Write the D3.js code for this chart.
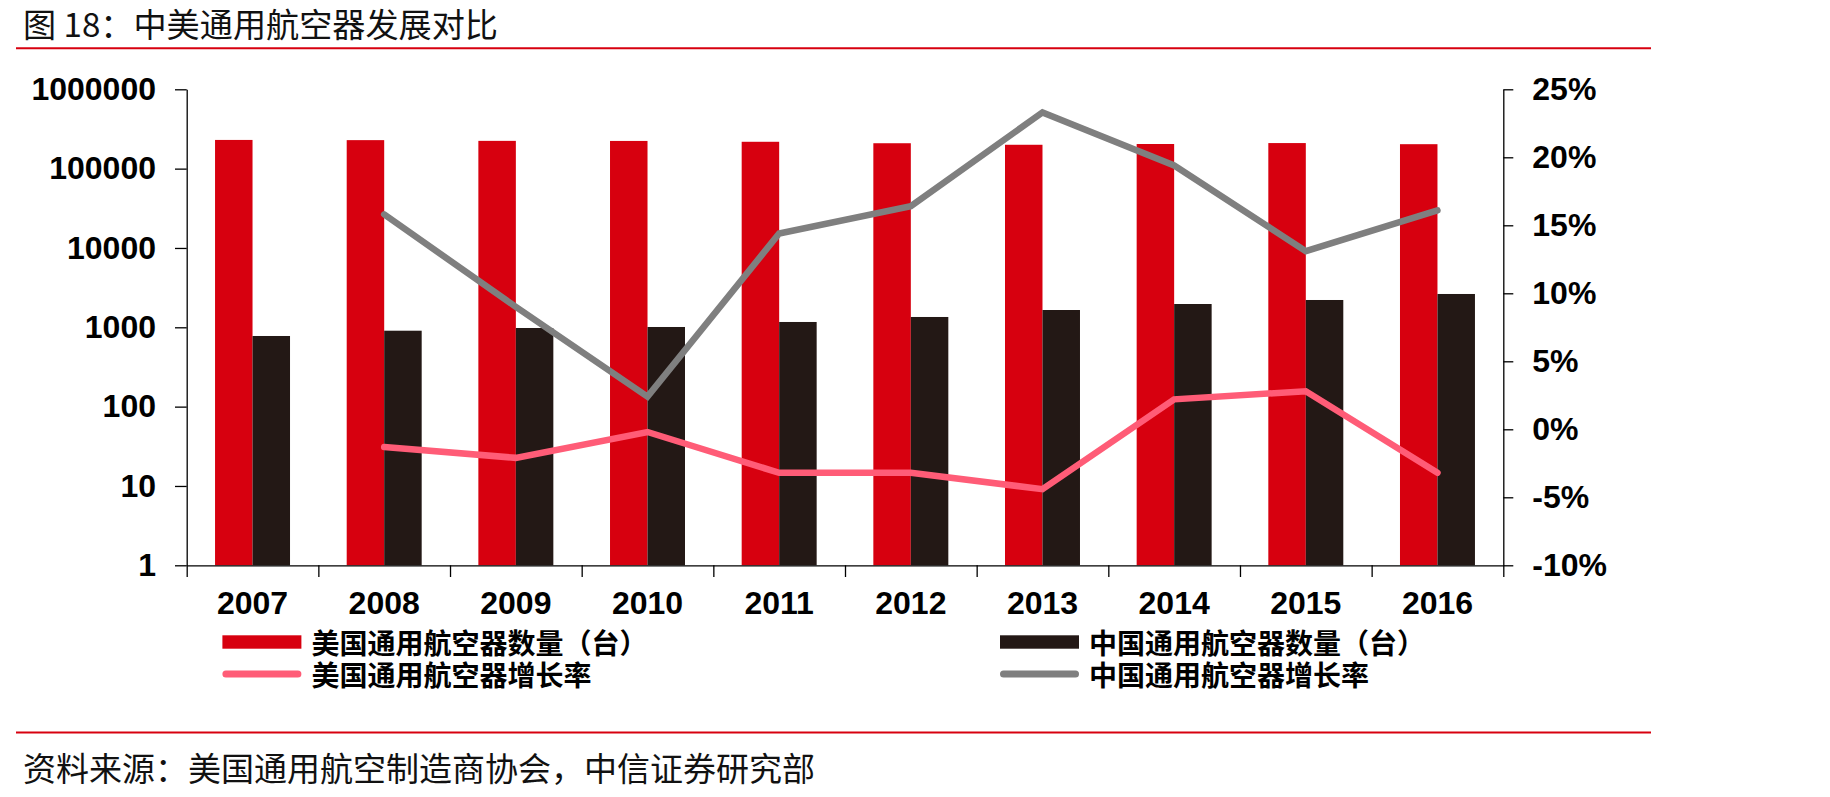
<!DOCTYPE html>
<html>
<head>
<meta charset="utf-8">
<script src="https://cdn.jsdelivr.net/npm/d3@7/dist/d3.min.js"></script>
<style>
    html, body { margin: 0; padding: 0; background: #fff; }
    svg { display: block; }
</style>
</head>
<body>
<div id="chart"><svg></svg></div>
<script>

// data
var years = ['2007', '2008', '2009', '2010', '2011', '2012', '2013', '2014', '2015', '2016'];
var usFleet = [230000, 228700, 223900, 223400, 218000, 209000, 199900, 204400, 210000, 203300];
var cnFleet = [777, 906, 980, 1009, 1167, 1349, 1652, 1966, 2209, 2630];
var usGrowth = [null, -0.013, -0.021, -0.002, -0.032, -0.032, -0.044, 0.022, 0.028, -0.032];
var cnGrowth = [null, 0.158, 0.090, 0.024, 0.144, 0.164, 0.233, 0.194, 0.131, 0.161];

var leftTicks = [1, 10, 100, 1000, 10000, 100000, 1000000];
var rightTicks = [-0.10, -0.05, 0, 0.05, 0.10, 0.15, 0.20, 0.25];

var titleText = '图 18：中美通用航空器发展对比';
var sourceText = '资料来源：美国通用航空制造商协会，中信证券研究部';
var legendLabels = ['美国通用航空器数量（台）', '中国通用航空器数量（台）',
                    '美国通用航空器增长率', '中国通用航空器增长率'];

var RED = '#d7000f', DARK = '#231815', PINK = '#ff5c77', GREY = '#7f7f7f';

/**
 * Constructor
 */
function FleetView(divId, width, height) {
    this.divId = divId;
    this.svgWidth = width;
    this.svgHeight = height;
    this.left = 186.7;
    this.right = 1503.3;
    this.top = 89.3;
    this.bottom = 565.3;
}

/**
 * Initialization: svg, scales
 */
FleetView.prototype.init = function () {
    this.svg = d3.select(this.divId).select('svg')
        .attr('width', this.svgWidth)
        .attr('height', this.svgHeight);

    this.x = d3.scaleBand().domain(years).range([this.left, this.right]).padding(0);
    this.xSub = d3.scaleBand().domain(['us', 'cn'])
        .range([0, this.x.bandwidth()]).paddingInner(0).paddingOuter(0.756);
    this.yLeft = d3.scaleLog().domain([1, 1000000]).range([this.bottom, this.top]);
    this.yRight = d3.scaleLinear().domain([-0.10, 0.25]).range([this.bottom, this.top]);
};

/**
 * Draw everything
 */
FleetView.prototype.update = function () {
    var self = this;
    var svg = this.svg;

    // title + rules
    svg.append('text')
        .attr('x', 23).attr('y', 23)
        .attr('dominant-baseline', 'central')
        .attr('textLength', 475).attr('lengthAdjust', 'spacingAndGlyphs')
        .style('font-family', '"Noto Sans CJK SC", sans-serif')
        .style('font-size', '33px')
        .attr('fill', '#111')
        .text(titleText);
    svg.append('line')
        .attr('x1', 16).attr('x2', 1651).attr('y1', 48.3).attr('y2', 48.3)
        .attr('stroke', RED).attr('stroke-width', 2);
    svg.append('line')
        .attr('x1', 16).attr('x2', 1651).attr('y1', 732.5).attr('y2', 732.5)
        .attr('stroke', RED).attr('stroke-width', 2);
    svg.append('text')
        .attr('x', 23).attr('y', 766.5)
        .attr('dominant-baseline', 'central')
        .style('font-family', '"Noto Sans CJK SC", sans-serif')
        .style('font-size', '33px')
        .attr('fill', '#111')
        .text(sourceText);

    // bars
    var bars = svg.append('g');
    bars.selectAll('rect.us').data(usFleet).enter()
        .append('rect').attr('class', 'us')
        .attr('x', function (d, i) { return self.x(years[i]) + self.xSub('us'); })
        .attr('width', this.xSub.bandwidth())
        .attr('y', function (d) { return self.yLeft(d); })
        .attr('height', function (d) { return self.yLeft(1) - self.yLeft(d); })
        .attr('fill', RED);
    bars.selectAll('rect.cn').data(cnFleet).enter()
        .append('rect').attr('class', 'cn')
        .attr('x', function (d, i) { return self.x(years[i]) + self.xSub('cn'); })
        .attr('width', this.xSub.bandwidth())
        .attr('y', function (d) { return self.yLeft(d); })
        .attr('height', function (d) { return self.yLeft(1) - self.yLeft(d); })
        .attr('fill', DARK);

    // growth lines
    var line = d3.line()
        .defined(function (d) { return d != null; })
        .x(function (d, i) { return self.x(years[i]) + self.x.bandwidth() / 2; })
        .y(function (d) { return self.yRight(d); });
    svg.append('path').datum(cnGrowth)
        .attr('d', line).attr('fill', 'none')
        .attr('stroke', GREY).attr('stroke-width', 6.5).attr('stroke-linecap', 'round');
    svg.append('path').datum(usGrowth)
        .attr('d', line).attr('fill', 'none')
        .attr('stroke', PINK).attr('stroke-width', 6.5).attr('stroke-linecap', 'round');

    // axes
    var numFont = '"Liberation Sans", Arial, sans-serif';
    var pct = d3.format('.0%');

    var leftAxis = d3.axisLeft(this.yLeft)
        .tickValues(leftTicks).tickFormat(d3.format('d'))
        .tickSizeInner(11.7).tickSizeOuter(0).tickPadding(19);
    var gl = svg.append('g').attr('transform', 'translate(' + this.left + ',0)').call(leftAxis);

    var rightAxis = d3.axisRight(this.yRight)
        .tickValues(rightTicks)
        .tickFormat(function (d) { return pct(d).replace('\u2212', '-'); })
        .tickSizeInner(10).tickSizeOuter(0).tickPadding(19);
    var gr = svg.append('g').attr('transform', 'translate(' + this.right + ',0)').call(rightAxis);

    // x axis: ticks on the category edges, labels in the middle
    var xEdge = d3.scaleLinear().domain([0, years.length]).range([this.left, this.right]);
    var edgeAxis = d3.axisBottom(xEdge)
        .tickValues(d3.range(years.length + 1)).tickFormat('')
        .tickSizeInner(11.7).tickSizeOuter(0);
    var ge = svg.append('g').attr('transform', 'translate(0,' + this.bottom + ')').call(edgeAxis);

    var labelAxis = d3.axisBottom(this.x).tickSize(0).tickPadding(26);
    var gx = svg.append('g').attr('transform', 'translate(0,' + this.bottom + ')').call(labelAxis);
    gx.select('.domain').remove();

    [gl, gr, ge, gx].forEach(function (g) {
        g.selectAll('path, line').attr('stroke', '#000').attr('stroke-width', 1.3);
        g.selectAll('text')
            .attr('fill', '#000')
            .style('font-family', numFont)
            .style('font-size', '32px')
            .style('font-weight', 'bold');
    });

    // legend
    var legend = svg.append('g')
        .style('font-family', '"Noto Sans CJK SC", sans-serif')
        .style('font-size', '28px')
        .style('font-weight', 'bold');
    var cols = [222.4, 1000];
    var rows = [642, 674];
    var kinds = [['rect', RED], ['rect', DARK], ['line', PINK], ['line', GREY]];
    legendLabels.forEach(function (lab, i) {
        var cx = cols[i % 2], cy = rows[Math.floor(i / 2)];
        if (kinds[i][0] === 'rect') {
            legend.append('rect')
                .attr('x', cx).attr('y', cy - 6.7)
                .attr('width', 79).attr('height', 13.4)
                .attr('fill', kinds[i][1]);
        } else {
            legend.append('line')
                .attr('x1', cx + 3.5).attr('x2', cx + 79 - 3.5)
                .attr('y1', cy).attr('y2', cy)
                .attr('stroke', kinds[i][1]).attr('stroke-width', 7)
                .attr('stroke-linecap', 'round');
        }
        legend.append('text')
            .attr('x', cx + 89).attr('y', cy)
            .attr('dominant-baseline', 'central')
            .attr('fill', '#000')
            .text(lab);
    });
};

var view = new FleetView('#chart', 1830, 797);
view.init();
view.update();

</script>
</body>
</html>
